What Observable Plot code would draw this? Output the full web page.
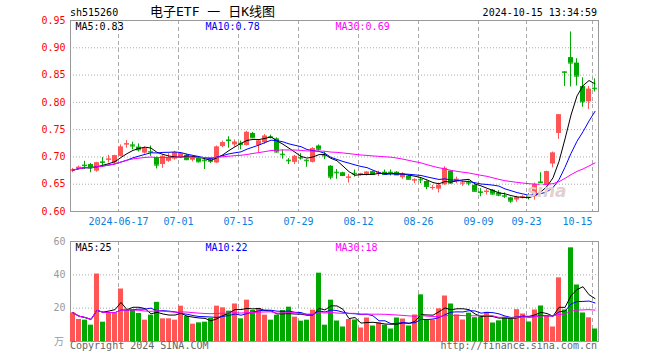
<!DOCTYPE html>
<html><head><meta charset="utf-8">
<script src="https://cdn.jsdelivr.net/npm/d3@7"></script>
<script src="https://cdn.jsdelivr.net/npm/@observablehq/plot@0.6"></script>
<style>
body{margin:0;background:#fff;}
#c{position:relative;width:660px;height:360px;overflow:hidden;font-family:"DejaVu Sans Mono",monospace;font-size:10px;background:#fff;}
#c svg{position:absolute;left:0;}
.t{position:absolute;white-space:nowrap;line-height:10px;}
</style></head><body><div id="c"></div><script>
const dates = ["2024-06-04","2024-06-05","2024-06-06","2024-06-07","2024-06-11","2024-06-12","2024-06-13","2024-06-14","2024-06-17","2024-06-18","2024-06-19","2024-06-20","2024-06-21","2024-06-24","2024-06-25","2024-06-26","2024-06-27","2024-06-28",
"2024-07-01","2024-07-02","2024-07-03","2024-07-04","2024-07-05","2024-07-08","2024-07-09","2024-07-10","2024-07-11","2024-07-12","2024-07-15","2024-07-16","2024-07-17","2024-07-18","2024-07-19","2024-07-22","2024-07-23","2024-07-24","2024-07-25","2024-07-26","2024-07-29","2024-07-30","2024-07-31",
"2024-08-01","2024-08-02","2024-08-05","2024-08-06","2024-08-07","2024-08-08","2024-08-09","2024-08-12","2024-08-13","2024-08-14","2024-08-15","2024-08-16","2024-08-19","2024-08-20","2024-08-21","2024-08-22","2024-08-23","2024-08-26","2024-08-27","2024-08-28","2024-08-29","2024-08-30",
"2024-09-02","2024-09-03","2024-09-04","2024-09-05","2024-09-06","2024-09-09","2024-09-10","2024-09-11","2024-09-12","2024-09-13","2024-09-18","2024-09-19","2024-09-20","2024-09-23","2024-09-24","2024-09-25","2024-09-26","2024-09-27","2024-09-30",
"2024-10-08","2024-10-09","2024-10-10","2024-10-11","2024-10-14","2024-10-15"];
const open = [0.674,0.679,0.685,0.686,0.674,0.691,0.694,0.689,0.701,0.722, 0.722,0.718,0.707,0.710,0.699,0.686,0.692,0.696,0.699,0.703, 0.694,0.697,0.694,0.694,0.689,0.719,0.731,0.722,0.725,0.721, 0.743,0.721,0.726,0.737,0.733,0.705,0.694,0.690,0.699,0.694, 0.690,0.720,0.703,0.683,0.672,0.671,0.661,0.670,0.666,0.666, 0.673,0.670,0.672,0.672,0.672,0.662,0.665,0.656,0.659,0.655, 0.642,0.641,0.649,0.674,0.654,0.651,0.653,0.648,0.636,0.635, 0.639,0.634,0.629,0.625,0.621,0.626,0.628,0.627,0.654,0.648, 0.687,0.743,0.856,0.882,0.872,0.829,0.801,0.826];
const close = [0.676,0.681,0.684,0.680,0.689,0.690,0.696,0.702,0.718,0.724, 0.720,0.713,0.715,0.709,0.685,0.701,0.698,0.708,0.706,0.695, 0.698,0.691,0.693,0.692,0.718,0.726,0.730,0.727,0.723,0.745, 0.735,0.729,0.738,0.736,0.709,0.704,0.693,0.701,0.698,0.693, 0.715,0.714,0.702,0.663,0.671,0.666,0.663,0.669,0.669,0.672, 0.668,0.671,0.668,0.671,0.667,0.668,0.659,0.658,0.658,0.646, 0.644,0.648,0.679,0.652,0.659,0.652,0.652,0.637,0.635,0.637, 0.632,0.630,0.628,0.619,0.625,0.627,0.627,0.649,0.653,0.673, 0.707,0.777,0.855,0.872,0.848,0.801,0.824,0.825];
const high = [0.679,0.683,0.692,0.688,0.690,0.699,0.703,0.703,0.722,0.730, 0.727,0.724,0.718,0.720,0.700,0.703,0.706,0.710,0.708,0.705, 0.700,0.699,0.697,0.697,0.720,0.729,0.737,0.731,0.729,0.747, 0.745,0.731,0.741,0.740,0.735,0.713,0.697,0.703,0.706,0.695, 0.717,0.722,0.709,0.684,0.677,0.672,0.668,0.676,0.670,0.673, 0.674,0.674,0.676,0.676,0.673,0.671,0.666,0.660,0.661,0.656, 0.648,0.652,0.682,0.675,0.663,0.656,0.656,0.649,0.642,0.640, 0.640,0.638,0.634,0.626,0.628,0.629,0.633,0.652,0.671,0.674, 0.709,0.778,0.856,0.929,0.880,0.845,0.829,0.843];
const low = [0.671,0.677,0.677,0.671,0.672,0.683,0.689,0.687,0.700,0.716, 0.713,0.709,0.705,0.701,0.678,0.679,0.690,0.694,0.697,0.693, 0.691,0.689,0.677,0.688,0.688,0.717,0.716,0.718,0.713,0.720, 0.734,0.708,0.723,0.733,0.707,0.696,0.686,0.686,0.694,0.681, 0.689,0.711,0.695,0.658,0.659,0.664,0.652,0.663,0.665,0.665, 0.667,0.664,0.667,0.665,0.666,0.659,0.658,0.651,0.651,0.640, 0.639,0.634,0.648,0.650,0.651,0.646,0.647,0.636,0.627,0.630, 0.630,0.627,0.624,0.615,0.617,0.623,0.621,0.621,0.648,0.647, 0.680,0.732,0.829,0.828,0.830,0.791,0.787,0.819];
const volume = [17.2,13.2,12.8,9.8,40.5,11.6,16.8,16.8,31.5,18.8, 18.8,16.8,12.8,15.8,23.5,13.6,13.6,12.8,21.2,15,
10.4,11.2,11.6,13.8,21.2,20.2,18.2,22.5,13.6,24.8, 18.6,19.8,15.8,12.8,15.8,18.6,20.6,14.6,12.2,12.8,
18.8,41,9.8,24.8,12.3,8.7,13.2,12.9,8.1,14.1, 9.3,11.1,9.8,7.5,14.1,13.5,9.3,15.9,28,12.9,
12.9,19.6,27.3,22.5,15.9,12.9,17,14.3,14.8,17.5, 11.1,12.4,14.5,13.6,19.1,16.5,11.7,18.9,21.3,15.4,
8.7,38.2,18.9,56.2,33.9,17.1,14.2,7.5];
const tickDates = ["2024-06-17","2024-07-01","2024-07-15","2024-07-29","2024-08-12","2024-08-26","2024-09-09","2024-09-23","2024-10-15"];
const tickLabels = ["2024-06-17","07-01","07-15","07-29","08-12","08-26","09-09","09-23","10-15"];
const priceTicks = [0.60,0.65,0.70,0.75,0.80,0.85,0.90,0.95];
const volTicks = [20,40,60];
const maLabels = ["MA5:0.83","MA10:0.78","MA30:0.69"];
const volMaLabels = ["MA5:25","MA10:22","MA30:18"];

const RED = "#ff5555", GREEN = "#00a800";
const maColors = ["#000000","#0000ff","#ff00ff"];
const maK = [5,10,30];
const legendDx = [5,135,265];
const n = dates.length;
const ma = (arr, k) => arr.map((_, i) => d3.mean(arr.slice(Math.max(0, i - k + 1), i + 1)));
const candles = dates.map((d, i) => ({i, date: d, open: open[i], close: close[i], high: high[i], low: low[i], vol: volume[i],
  color: close[i] >= open[i] ? RED : GREEN}));
const ticks = tickDates.map((d, j) => ({i: dates.indexOf(d), label: tickLabels[j], last: j === tickDates.length - 1}));
const maSeries = (arr) => maK.flatMap((k, j) => ma(arr, k).map((v, i) => ({i, v, s: j})));

const W = 660, ML = 70, MR = 62;
const common = {width: W, marginLeft: ML, marginRight: MR,
  x: {domain: [0, n], axis: null},
  style: {fontFamily: "DejaVu Sans Mono, monospace", fontSize: "10px", background: "transparent", overflow: "visible"}};

const legendMarks = (labels) => labels.map((t, j) => Plot.text([t], {frameAnchor: "top-left", lineAnchor: "middle", textAnchor: "start", dx: legendDx[j], dy: 6, text: d => d, fill: maColors[j]}));

const pricePlot = Plot.plot({
  ...common, height: 232, marginTop: 20, marginBottom: 21,
  y: {domain: [0.60, 0.95], axis: null},
  marks: [
    Plot.ruleY(priceTicks.slice(1, -1), {stroke: "#aaa", strokeDasharray: "1,2"}),
    Plot.ruleX(ticks, {x: "i", stroke: "#aaa", strokeDasharray: "4,3"}),
    Plot.frame({stroke: "#999"}),
    Plot.ruleX(candles, {x: d => d.i + 0.333, y1: "low", y2: "high", stroke: "color"}),
    Plot.rect(candles, {x1: "i", x2: d => d.i + 0.833, y1: "open", y2: "close", fill: "color"}),
    Plot.ruleY(candles, {x1: "i", x2: d => d.i + 0.833, y: "close", stroke: "color"}),
    Plot.line(maSeries(close), {x: d => d.i + 0.42, y: "v", z: "s", stroke: d => maColors[d.s], strokeWidth: 1}),
    Plot.text(priceTicks, {x: 0, y: d => d, text: d => d.toFixed(2), textAnchor: "end", dx: -5, fill: "#ff0000"}),
    Plot.text(ticks, {x: d => d.last ? d.i - 2.5 : d.i, y: 0.60, dy: 10, text: "label", fill: "#0a80e0"}),
    ...legendMarks(maLabels)
  ]
});
pricePlot.style.top = "0px";

const volPlot = Plot.plot({
  ...common, height: 128, marginTop: 9, marginBottom: 19,
  y: {domain: [0, 60], axis: null},
  marks: [
    Plot.ruleY(volTicks.slice(0, -1), {stroke: "#aaa", strokeDasharray: "1,2"}),
    Plot.ruleX(ticks, {x: "i", stroke: "#aaa", strokeDasharray: "4,3"}),
    Plot.frame({stroke: "#999"}),
    Plot.rect(candles, {x1: "i", x2: d => d.i + 0.833, y1: 0, y2: "vol", fill: "color"}),
    Plot.line(maSeries(volume), {x: d => d.i + 0.42, y: "v", z: "s", stroke: d => maColors[d.s], strokeWidth: 1}),
    Plot.text(volTicks, {x: 0, y: d => d, text: d => String(d), textAnchor: "end", dx: -5, fill: "#999"}),
    ...legendMarks(volMaLabels)
  ]
});
volPlot.style.top = "232px";

const c = document.getElementById("c");
c.appendChild(pricePlot); c.appendChild(volPlot);

function addText(txt, css) {
  const d = document.createElement("div"); d.className = "t"; d.textContent = txt;
  Object.assign(d.style, css); c.appendChild(d); return d;
}
addText("sh515260", {left: "70px", top: "8px", color: "#000"});
addText("电子ETF 一 日K线图", {left: "150px", top: "5px", fontSize: "13px", lineHeight: "13px", fontFamily: "DejaVu Sans Mono, Noto Sans CJK SC", color: "#000"});
addText("2024-10-15 13:34:59", {right: "63px", top: "8px", color: "#000"});
addText("万", {right: "596px", top: "336px", color: "#999", fontFamily: "Noto Sans CJK SC", fontSize: "10px"});
addText("Copyright 2024 SINA.COM", {left: "70px", top: "341px", color: "#666"});
addText("http://finance.sina.com.cn", {right: "63px", top: "341px", color: "#666"});
addText("sina", {left: "527px", top: "183px", color: "#e4cfcf", fontFamily: "DejaVu Sans", fontSize: "17px", fontWeight: "bold", fontStyle: "italic", lineHeight: "17px"});
</script></body></html>
